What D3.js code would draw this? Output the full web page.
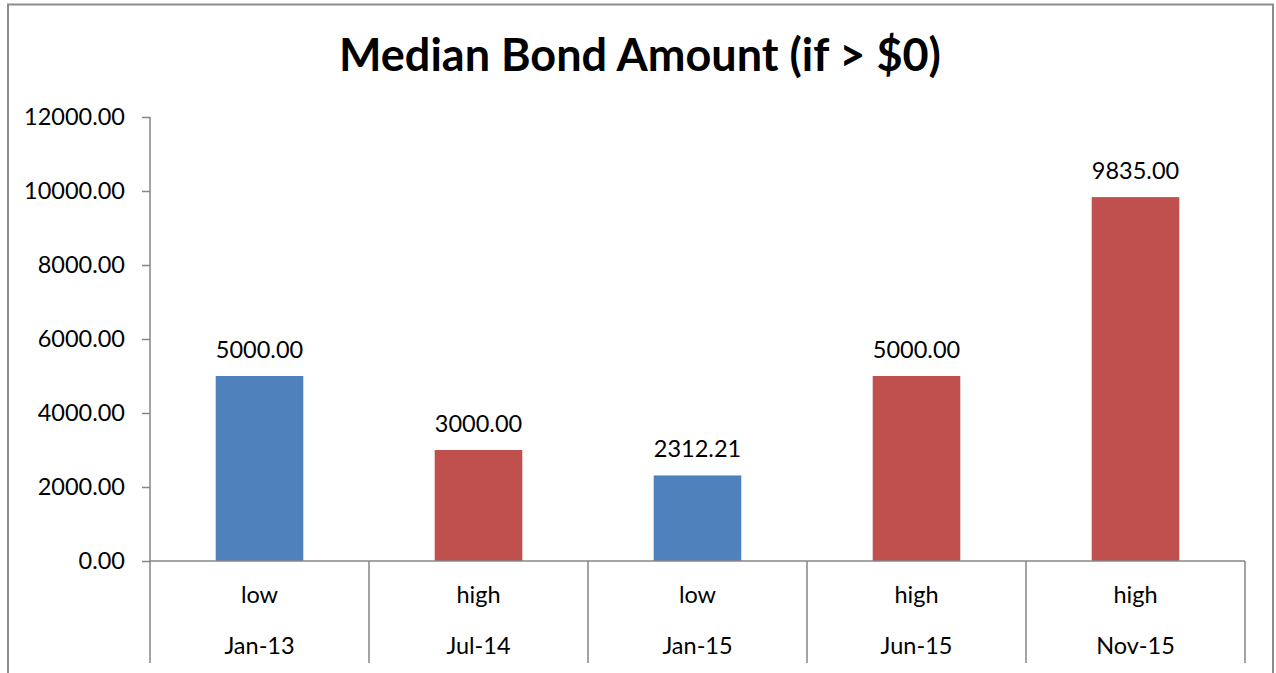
<!DOCTYPE html>
<html><head><meta charset="utf-8">
<script src="https://cdn.jsdelivr.net/npm/d3@7"></script>
<style>html,body{margin:0;padding:0;background:#fff;overflow:hidden}</style>
</head><body>
<svg id="c" width="1276" height="673"></svg>
<script>
const dates = ["Jan-13","Jul-14","Jan-15","Jun-15","Nov-15"];
const levels = ["low","high","low","high","high"];
const values = [5000.00, 3000.00, 2312.21, 5000.00, 9835.00];
const yTicks = [0,2000,4000,6000,8000,10000,12000];
const title = "Median Bond Amount (if > $0)";
const colorByLevel = {low:"#4F81BD", high:"#C0504D"};

const FONT = "Lato, 'Open Sans', sans-serif";
const FS = 23.5;
const svg = d3.select("#c");
const L=150, R=1245, T=117, B=561;

svg.append("rect").attr("x",8).attr("y",4.5).attr("width",1265).attr("height",700)
  .attr("fill","#fff").attr("stroke","#8c8c8c").attr("stroke-width",2);

svg.append("text").attr("x",640).attr("y",71).attr("text-anchor","middle")
  .attr("font-family",FONT).attr("font-weight","bold").attr("font-size",45)
  .attr("fill","#000").text(title);

const x = d3.scaleBand().domain(d3.range(dates.length)).range([L,R]).paddingInner(0).paddingOuter(0);
const y = d3.scaleLinear().domain([0,12000]).range([B,T]);
const bw = x.bandwidth()*0.4;

// y axis
const ya = svg.append("g").attr("transform",`translate(${L},0)`)
  .call(d3.axisLeft(y).tickValues(yTicks).tickSize(8).tickPadding(17).tickFormat(d3.format(".2f")));
ya.select(".domain").attr("stroke","#868686").attr("stroke-width",1.5).attr("d",`M0,${T}V${B}`);
ya.selectAll(".tick line").attr("stroke","#868686").attr("stroke-width",1.5);
ya.selectAll(".tick text").attr("font-family",FONT).attr("font-size",FS).attr("fill","#000");

// bars
svg.append("g").selectAll("rect").data(values).join("rect")
  .attr("x",(d,i)=>x(i)+(x.bandwidth()-bw)/2).attr("width",bw)
  .attr("y",d=>y(d)).attr("height",d=>B-y(d))
  .attr("fill",(d,i)=>colorByLevel[levels[i]]);

// data labels
svg.append("g").selectAll("text").data(values).join("text")
  .attr("x",(d,i)=>x(i)+x.bandwidth()/2).attr("y",d=>y(d)-18)
  .attr("text-anchor","middle").attr("font-family",FONT).attr("font-size",FS).attr("fill","#000")
  .text(d=>d3.format(".2f")(d));

// category axis
const g = svg.append("g");
g.append("line").attr("x1",L).attr("x2",R).attr("y1",B).attr("y2",B).attr("stroke","#868686").attr("stroke-width",1.5);
const seps = d3.range(dates.length+1).map(i=> i<dates.length ? x(i) : x(dates.length-1)+x.bandwidth());
g.selectAll("line.sep").data(seps).join("line").attr("class","sep")
  .attr("x1",d=>d).attr("x2",d=>d).attr("y1",B).attr("y2",663)
  .attr("stroke","#868686").attr("stroke-width",1.5);
g.selectAll("text.lv").data(levels).join("text").attr("class","lv")
  .attr("x",(d,i)=>x(i)+x.bandwidth()/2).attr("y",603)
  .attr("text-anchor","middle").attr("font-family",FONT).attr("font-size",FS).attr("fill","#000").text(d=>d);
g.selectAll("text.dt").data(dates).join("text").attr("class","dt")
  .attr("x",(d,i)=>x(i)+x.bandwidth()/2).attr("y",654)
  .attr("text-anchor","middle").attr("font-family",FONT).attr("font-size",FS).attr("fill","#000").text(d=>d);
</script>
</body></html>
